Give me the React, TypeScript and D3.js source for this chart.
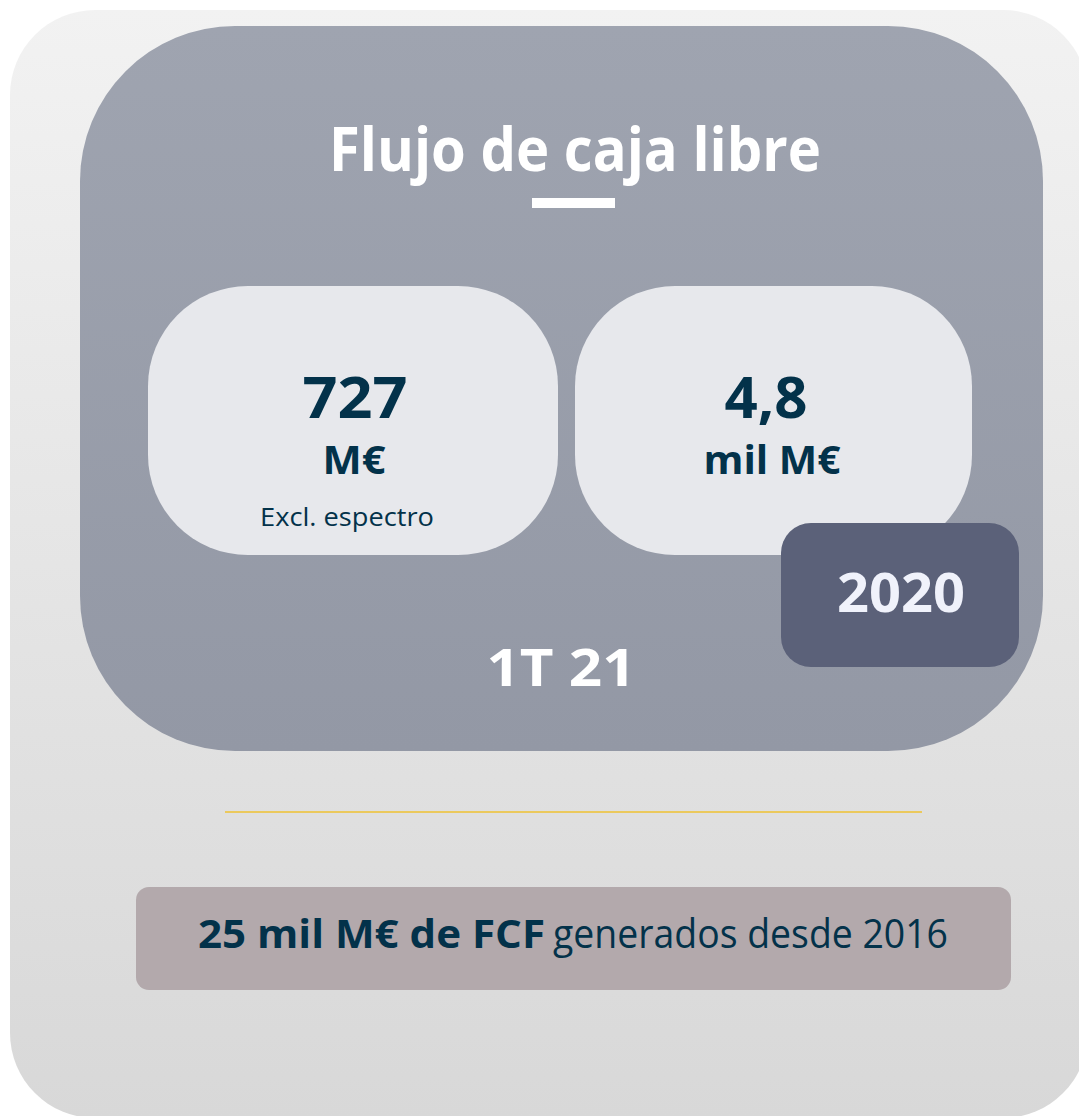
import React from "react";
import * as d3 from "d3";

const title = "Flujo de caja libre";
const cardValues = ["727", "4,8"];
const cardUnits = ["M€", "mil M€"];
const cardNotes = ["Excl. espectro", ""];
const periodLabels = ["1T 21", "2020"];
const footerBold = "25 mil M€ de FCF";
const footerRegular = " generados desde 2016";

const W = 1079;
const H = 1116;
const FONT = "'Open Sans', 'Noto Sans', sans-serif";
const DARK = "#03324a";

export default function App() {
  const cardX = d3.scaleOrdinal<number, number>().domain([0, 1]).range([148, 575]);
  const cardW = [410, 397];
  const cardCx = [355, 766];
  const valueLen = [105, 83];
  const unitLen = [63, 137];

  return (
    <svg
      width={W}
      height={H}
      viewBox={`0 0 ${W} ${H}`}
      style={{ position: "absolute", left: 0, top: 0, display: "block", background: "#ffffff" }}
      fontFamily={FONT}
    >
      <defs>
        <linearGradient id="bgGrad" x1="0" y1="0" x2="0" y2="1">
          <stop offset="0" stopColor="#f2f2f2" />
          <stop offset="1" stopColor="#d8d8d8" />
        </linearGradient>
        <linearGradient id="panelGrad" x1="0" y1="0" x2="0" y2="1">
          <stop offset="0" stopColor="#9fa4b0" />
          <stop offset="1" stopColor="#9398a5" />
        </linearGradient>
      </defs>

      <rect x={10} y={10} width={1078} height={1108} rx={85} ry={85} fill="url(#bgGrad)" />

      <rect x={80} y={26} width={963} height={725} rx={155} ry={155} fill="url(#panelGrad)" />

      <text x={575} y={171} textAnchor="middle" fill="#ffffff" fontWeight={700} fontSize={60}
        textLength={492} lengthAdjust="spacingAndGlyphs">{title}</text>
      <rect x={532} y={198} width={83} height={10} fill="#ffffff" />

      {cardValues.map((v, i) => (
        <g key={i}>
          <rect x={cardX(i)} y={286} width={cardW[i]} height={269} rx={100} ry={100} fill="#e7e8ec" />
          <text x={cardCx[i]} y={418} textAnchor="middle" fill={DARK} fontWeight={700} fontSize={58}
            textLength={valueLen[i]} lengthAdjust="spacingAndGlyphs">{v}</text>
          <text x={cardCx[i] + (i === 0 ? -1 : 6)} y={474} textAnchor="middle" fill={DARK} fontWeight={700} fontSize={40}
            textLength={unitLen[i]} lengthAdjust="spacingAndGlyphs">{cardUnits[i]}</text>
          {cardNotes[i] ? (
            <text x={347} y={526} textAnchor="middle" fill={DARK} fontWeight={400} fontSize={26}
              textLength={174} lengthAdjust="spacingAndGlyphs">{cardNotes[i]}</text>
          ) : null}
        </g>
      ))}

      <text x={561} y={686} textAnchor="middle" fill="#ffffff" fontWeight={700} fontSize={52}
        textLength={149} lengthAdjust="spacingAndGlyphs">{periodLabels[0]}</text>

      <rect x={781} y={523} width={238} height={144} rx={30} ry={30} fill="#5b6179" />
      <text x={901} y={612} textAnchor="middle" fill="#f0f2fb" fontWeight={700} fontSize={53}
        textLength={128} lengthAdjust="spacingAndGlyphs">{periodLabels[1]}</text>

      <line x1={225} x2={922} y1={812} y2={812} stroke="#efc232" strokeWidth={1.5} />

      <rect x={136} y={887} width={875} height={103} rx={13} ry={13} fill="#b3a9ac" />
      <text y={948} fill={DARK} fontSize={40}>
        <tspan x={198} fontWeight={700} textLength={347} lengthAdjust="spacingAndGlyphs">{footerBold}</tspan>
        <tspan x={553} fontWeight={400} textLength={395} lengthAdjust="spacingAndGlyphs">{footerRegular.trim()}</tspan>
      </text>
    </svg>
  );
}
